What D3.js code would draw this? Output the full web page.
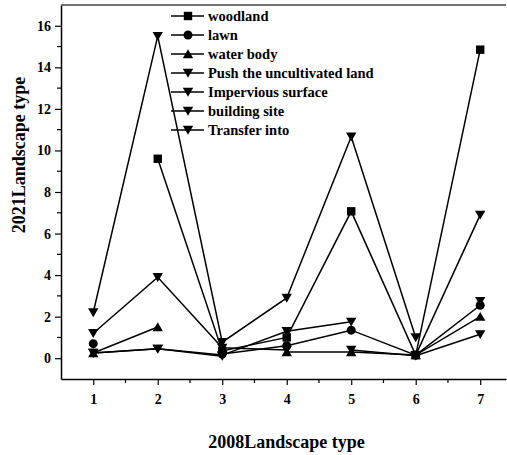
<!DOCTYPE html>
<html>
<head>
<meta charset="utf-8">
<script src="https://cdn.jsdelivr.net/npm/d3@7"></script>
<style>
    body { margin: 0; background: #fff; }
    text { font-family: "Liberation Serif", "Times New Roman", serif; font-weight: bold; }
</style>
</head>
<body>
<svg id="chart" width="507" height="455"></svg>
<script>
// 2008 landscape type (x) -> 2021 landscape type (series)
var categories = [1, 2, 3, 4, 5, 6, 7];
var seriesNames = ["woodland", "lawn", "water body", "Push the uncultivated land",
    "Impervious surface", "building site", "Transfer into"];
var seriesSymbols = ["square", "circle", "triangle", "down", "down", "down", "down"];

var woodland = [null, 9.6, 0.35, 1.0, 7.07, 0.15, 14.85];
var lawn = [0.7, null, 0.2, 0.6, 1.35, 0.15, 2.55];
var waterBody = [0.25, 1.5, null, 0.3, 0.3, 0.15, 2.0];
var pushLand = [0.25, 0.45, 0.1, null, 0.4, 0.12, 1.15];
var impervious = [1.2, 3.9, 0.5, 0.4, null, 0.15, 6.9];
var buildingSite = [0.25, 0.45, 0.15, 1.3, 1.75, null, 2.75];
var transferInto = [2.2, 15.5, 0.77, 2.9, 10.66, 1.0, null];

var xTicks = [1, 2, 3, 4, 5, 6, 7];
var yTicks = [0, 2, 4, 6, 8, 10, 12, 14, 16];

var series = [woodland, lawn, waterBody, pushLand, impervious, buildingSite, transferInto];

var svg = d3.select("#chart");
var plot = {left: 61, right: 506, top: 5, bottom: 379};

var x = d3.scaleLinear().domain([0.5, 7.4]).range([plot.left, plot.right]);
var y = d3.scaleLinear().domain([-1, 17]).range([plot.bottom, plot.top]);

// axes
var xAxis = svg.append("g")
    .attr("transform", "translate(0," + plot.bottom + ")")
    .call(d3.axisBottom(x).tickValues(xTicks).tickSize(6).tickPadding(9).tickFormat(d3.format("d")).tickSizeOuter(0));
xAxis.append("g").selectAll("line")
    .data(d3.range(1.5, 7, 1))
    .join("line")
    .attr("x1", d => x(d)).attr("x2", d => x(d))
    .attr("y1", 0).attr("y2", 4)
    .attr("stroke", "#000").attr("stroke-width", 1.2);

var yAxis = svg.append("g")
    .attr("transform", "translate(" + plot.left + ",0)")
    .call(d3.axisLeft(y).tickValues(yTicks).tickSize(6).tickPadding(4).tickFormat(d3.format("d")).tickSizeOuter(0));
yAxis.append("g").selectAll("line")
    .data(d3.range(1, 17, 2))
    .join("line")
    .attr("y1", d => y(d)).attr("y2", d => y(d))
    .attr("x1", 0).attr("x2", -4)
    .attr("stroke", "#000").attr("stroke-width", 1.2);

[xAxis, yAxis].forEach(function (ax) {
    ax.select(".domain").attr("stroke-width", 1.5);
    ax.selectAll(".tick line").attr("stroke-width", 1.2);
    ax.selectAll(".tick text")
        .style("font-family", "'Liberation Serif', serif")
        .style("font-weight", "bold")
        .style("font-size", "14px")
        .attr("fill", "#000");
});

// top frame line
svg.append("line")
    .attr("x1", plot.left).attr("x2", plot.right)
    .attr("y1", plot.top).attr("y2", plot.top)
    .attr("stroke", "#444").attr("stroke-width", 1.5);

// symbols
function drawSymbol(g, type) {
    if (type === "square") {
        g.append("rect").attr("x", -4.2).attr("y", -4.2).attr("width", 8.4).attr("height", 8.4);
    } else if (type === "circle") {
        g.append("circle").attr("r", 4.5);
    } else if (type === "triangle") {
        g.append("path").attr("d", "M0,-4.7L5.2,4.2L-5.2,4.2Z");
    } else {
        g.append("path").attr("d", "M-5.2,-4.2L5.2,-4.2L0,4.7Z");
    }
    g.attr("fill", "#000");
}

var line = d3.line()
    .defined(d => d[1] !== null)
    .x(d => x(d[0]))
    .y(d => y(d[1]));

var linesG = svg.append("g");
var marksG = svg.append("g");

series.forEach(function (vals, i) {
    var pts = categories.map((c, j) => [c, vals[j]]);
    linesG.append("path")
        .attr("fill", "none")
        .attr("stroke", "#000")
        .attr("stroke-width", 1.5)
        .attr("d", line(pts));
    pts.filter(d => d[1] !== null).forEach(function (d) {
        var g = marksG.append("g").attr("transform", "translate(" + x(d[0]) + "," + y(d[1]) + ")");
        drawSymbol(g, seriesSymbols[i]);
    });
});

// legend
var legend = svg.append("g");
seriesNames.forEach(function (name, i) {
    var cy = 16 + i * 19;
    legend.append("line")
        .attr("x1", 171).attr("x2", 204)
        .attr("y1", cy).attr("y2", cy)
        .attr("stroke", "#000").attr("stroke-width", 1.5);
    var g = legend.append("g").attr("transform", "translate(188," + cy + ")");
    drawSymbol(g, seriesSymbols[i]);
    legend.append("text")
        .attr("x", 208).attr("y", cy + 4.8)
        .attr("font-size", "14.5px")
        .text(name);
});

// axis titles
svg.append("text")
    .attr("x", (plot.left + plot.right) / 2 + 3)
    .attr("y", 448)
    .attr("text-anchor", "middle")
    .attr("font-size", "18px")
    .text("2008Landscape type");

svg.append("text")
    .attr("transform", "translate(25," + 155 + ") rotate(-90)")
    .attr("text-anchor", "middle")
    .attr("font-size", "18px")
    .text("2021Landscape type");
</script>
</body>
</html>
